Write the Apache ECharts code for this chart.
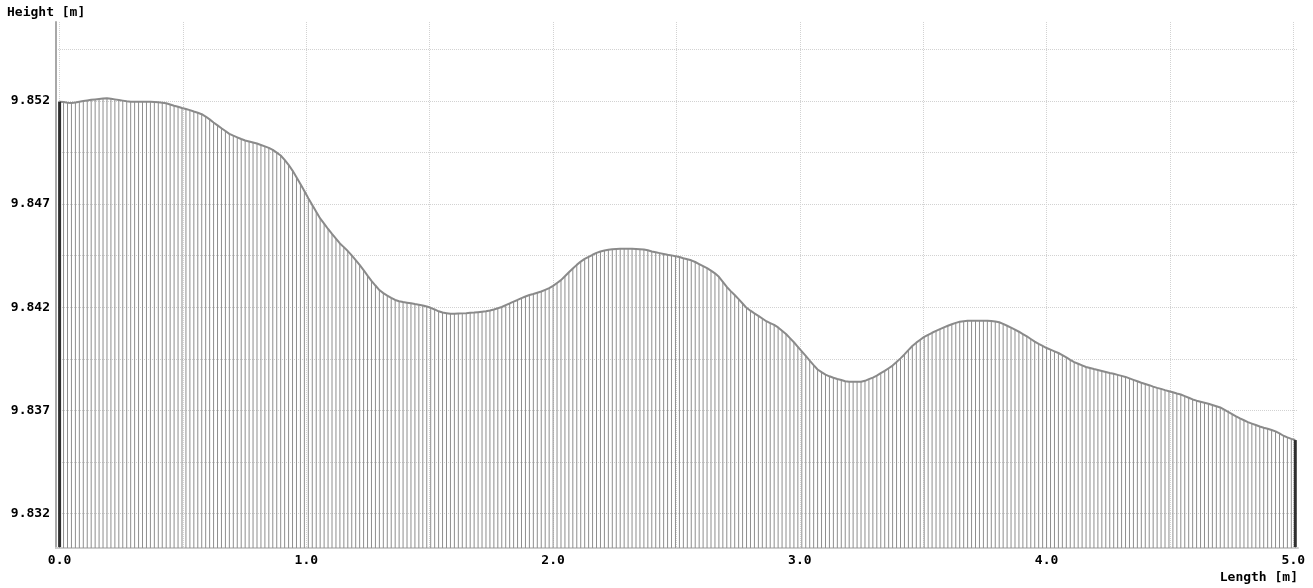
<!DOCTYPE html>
<html>
<head>
<meta charset="utf-8">
<script src="https://cdn.jsdelivr.net/npm/echarts@6/dist/echarts.min.js"></script>
<style>
  html, body { margin: 0; padding: 0; background: #ffffff; }
  #chart { width: 1313px; height: 588px; }
</style>
</head>
<body>
<div id="chart"></div>
<script>
// Surface profile: height sampled along the length every 16 mm
const sampleStep = 0.016; // m between samples
const heights = [
  9.85196, 9.85194, 9.85191, 9.85189, 9.85192, 9.85196, 9.85199, 9.85202, 9.85205, 9.85207,
  9.85209, 9.85211, 9.85212, 9.85210, 9.85207, 9.85204, 9.85201, 9.85198, 9.85196, 9.85196,
  9.85195, 9.85195, 9.85195, 9.85195, 9.85194, 9.85193, 9.85191, 9.85188, 9.85182, 9.85176,
  9.85171, 9.85165, 9.85160, 9.85155, 9.85148, 9.85142, 9.85135, 9.85124, 9.85110, 9.85095,
  9.85081, 9.85067, 9.85054, 9.85040, 9.85031, 9.85023, 9.85015, 9.85008, 9.85003, 9.84998,
  9.84993, 9.84986, 9.84979, 9.84972, 9.84962, 9.84949, 9.84935, 9.84914, 9.84890, 9.84862,
  9.84830, 9.84797, 9.84763, 9.84728, 9.84695, 9.84662, 9.84630, 9.84605, 9.84579, 9.84555,
  9.84532, 9.84509, 9.84491, 9.84472, 9.84451, 9.84428, 9.84405, 9.84380, 9.84353, 9.84328,
  9.84305, 9.84283, 9.84268, 9.84256, 9.84245, 9.84235, 9.84229, 9.84225, 9.84222, 9.84219,
  9.84215, 9.84212, 9.84208, 9.84203, 9.84197, 9.84189, 9.84180, 9.84174, 9.84171, 9.84168,
  9.84168, 9.84169, 9.84170, 9.84171, 9.84173, 9.84174, 9.84176, 9.84178, 9.84180, 9.84184,
  9.84189, 9.84195, 9.84201, 9.84210, 9.84218, 9.84227, 9.84235, 9.84244, 9.84252, 9.84259,
  9.84264, 9.84270, 9.84276, 9.84284, 9.84292, 9.84303, 9.84317, 9.84331, 9.84350, 9.84369,
  9.84387, 9.84405, 9.84421, 9.84434, 9.84444, 9.84454, 9.84463, 9.84470, 9.84475, 9.84478,
  9.84481, 9.84482, 9.84483, 9.84483, 9.84483, 9.84483, 9.84482, 9.84481, 9.84480, 9.84476,
  9.84470, 9.84466, 9.84462, 9.84458, 9.84454, 9.84451, 9.84447, 9.84443, 9.84437, 9.84432,
  9.84427, 9.84419, 9.84409, 9.84399, 9.84389, 9.84377, 9.84364, 9.84347, 9.84323, 9.84298,
  9.84278, 9.84259, 9.84239, 9.84218, 9.84197, 9.84183, 9.84170, 9.84158, 9.84145, 9.84132,
  9.84123, 9.84114, 9.84102, 9.84086, 9.84070, 9.84050, 9.84030, 9.84008, 9.83986, 9.83964,
  9.83941, 9.83919, 9.83898, 9.83885, 9.83873, 9.83865, 9.83858, 9.83852, 9.83847, 9.83841,
  9.83839, 9.83839, 9.83839, 9.83839, 9.83843, 9.83851, 9.83859, 9.83868, 9.83880, 9.83891,
  9.83904, 9.83917, 9.83934, 9.83952, 9.83971, 9.83992, 9.84012, 9.84028, 9.84042, 9.84056,
  9.84066, 9.84076, 9.84085, 9.84094, 9.84102, 9.84110, 9.84117, 9.84124, 9.84129, 9.84132,
  9.84134, 9.84134, 9.84134, 9.84134, 9.84134, 9.84134, 9.84133, 9.84131, 9.84127, 9.84119,
  9.84110, 9.84101, 9.84091, 9.84081, 9.84070, 9.84059, 9.84046, 9.84033, 9.84022, 9.84012,
  9.84002, 9.83994, 9.83986, 9.83978, 9.83968, 9.83957, 9.83945, 9.83934, 9.83926, 9.83918,
  9.83910, 9.83905, 9.83900, 9.83896, 9.83891, 9.83886, 9.83881, 9.83877, 9.83872, 9.83867,
  9.83862, 9.83855, 9.83848, 9.83841, 9.83834, 9.83828, 9.83822, 9.83815, 9.83809, 9.83804,
  9.83798, 9.83793, 9.83788, 9.83782, 9.83777, 9.83769, 9.83761, 9.83753, 9.83747, 9.83742,
  9.83737, 9.83732, 9.83726, 9.83720, 9.83714, 9.83704, 9.83693, 9.83682, 9.83671, 9.83661,
  9.83652, 9.83643, 9.83636, 9.83629, 9.83622, 9.83616, 9.83611, 9.83605, 9.83598, 9.83588,
  9.83577, 9.83569, 9.83562, 9.83556
];

// Axis ticks
const lengthLabels = [0, 1, 2, 3, 4, 5];
const lengthGrid = [0, 0.5, 1, 1.5, 2, 2.5, 3, 3.5, 4, 4.5, 5];
const heightLabels = [9.832, 9.837, 9.842, 9.847, 9.852];
const heightGrid = [9.832, 9.8345, 9.837, 9.8395, 9.842, 9.8445, 9.847, 9.8495, 9.852, 9.8545];

const FONT = 'DejaVu Sans Mono';
const Y_MIN = 9.83033;
const Y_MAX = 9.85582;

const points = heights.map((h, i) => [i * sampleStep, h]);
// first and last samples are drawn as heavier end posts
const endPoints = [points[0], points[points.length - 1]];

const chart = echarts.init(document.getElementById('chart'), null, { renderer: 'canvas' });
chart.setOption({
  animation: false,
  backgroundColor: '#ffffff',
  grid: { left: 56, right: 15, top: 22, bottom: 40, containLabel: false },
  xAxis: {
    type: 'value',
    min: -0.0146,
    max: 5.019,
    axisLine: { show: true, onZero: false, lineStyle: { color: '#cccccc', width: 2 } },
    axisTick: { show: false, customValues: lengthGrid },
    axisLabel: {
      customValues: lengthLabels,
      formatter: v => v.toFixed(1),
      color: '#000000',
      fontFamily: FONT,
      fontWeight: 'bold',
      fontSize: 13,
      margin: 6
    },
    splitLine: { show: true, lineStyle: { color: '#d2d2d2', width: 1, type: [1, 1] } }
  },
  yAxis: {
    type: 'value',
    min: Y_MIN,
    max: Y_MAX,
    axisLine: { show: true, onZero: false, lineStyle: { color: '#a8a8a8', width: 2 } },
    axisTick: { show: false, customValues: heightGrid },
    axisLabel: {
      customValues: heightLabels,
      formatter: v => v.toFixed(3),
      color: '#000000',
      fontFamily: FONT,
      fontWeight: 'bold',
      fontSize: 13,
      margin: 6
    },
    splitLine: { show: true, lineStyle: { color: '#d2d2d2', width: 1, type: [1, 1] } }
  },
  graphic: [
    {
      type: 'text', left: 7, top: 6,
      style: { text: 'Height [m]', fill: '#000000', font: 'bold 13px "' + FONT + '"' }
    },
    {
      type: 'text', right: 15, top: 571,
      style: { text: 'Length [m]', fill: '#000000', font: 'bold 13px "' + FONT + '"' }
    }
  ],
  series: [
    {
      type: 'bar',
      data: points,
      barWidth: 1,
      itemStyle: { color: '#8e8e8e' },
      clip: true,
      silent: true,
      z: 2
    },
    {
      type: 'line',
      data: points,
      showSymbol: false,
      symbol: 'none',
      lineStyle: { color: '#8a8a8a', width: 2 },
      clip: true,
      silent: true,
      z: 3
    },
    {
      type: 'custom',
      data: endPoints,
      silent: true,
      z: 4,
      renderItem: function (params, api) {
        const top = api.coord([api.value(0), api.value(1)]);
        const base = api.coord([api.value(0), Y_MIN]);
        return {
          type: 'rect',
          shape: { x: top[0] - 1.5, y: top[1], width: 3, height: base[1] - top[1] - 1 },
          style: { fill: '#2e2e2e' }
        };
      }
    }
  ]
});
</script>
</body>
</html>
